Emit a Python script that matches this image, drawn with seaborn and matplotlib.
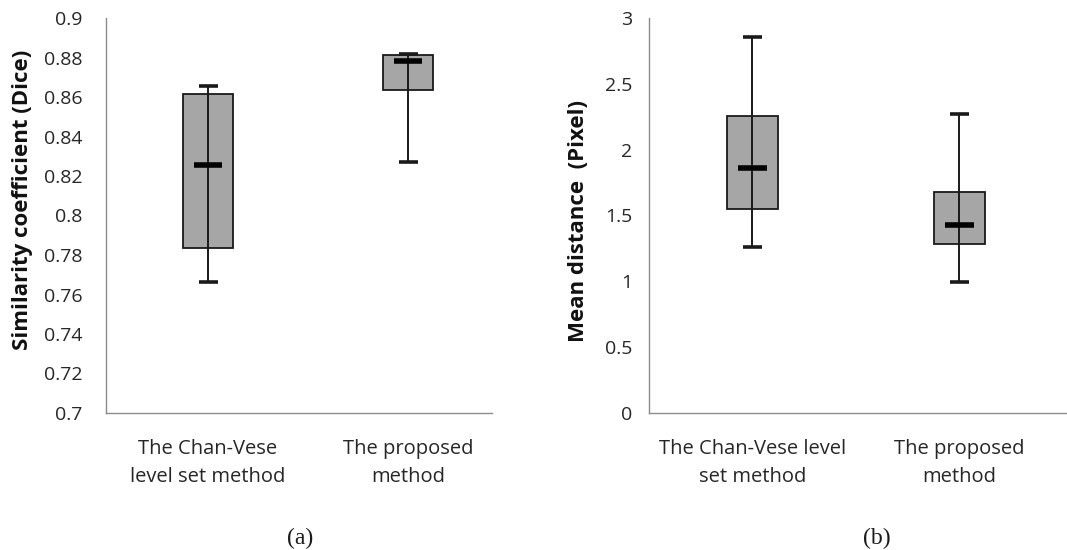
import pandas as pd
import matplotlib
matplotlib.use("Agg")
import matplotlib.pyplot as plt
import seaborn as sns

# five-number summaries: min, q1, median, q3, max
methods = ["The Chan-Vese\nlevel set method", "The proposed\nmethod"]
methods_b = ["The Chan-Vese level\nset method", "The proposed\nmethod"]
dice_chan_vese = [0.7662, 0.7835, 0.8256, 0.8615, 0.8654]
dice_proposed = [0.8271, 0.8635, 0.8784, 0.8811, 0.8819]
dist_chan_vese = [1.261, 1.549, 1.858, 2.253, 2.858]
dist_proposed = [0.992, 1.281, 1.430, 1.678, 2.271]


def long_form(labels, a, b):
    return pd.DataFrame({
        "method": [labels[0]] * len(a) + [labels[1]] * len(b),
        "value": a + b,
    })


def style_boxes(ax):
    for cont in ax.containers:
        for i, med in enumerate(cont.medians):
            x = med.get_xdata()
            c = (x[0] + x[1]) / 2
            half = (x[1] - x[0]) / 2
            med.set_xdata([c - half * 0.57, c + half * 0.57])
            y_med = med.get_ydata()[0]
            # whisker line runs through the box, as in the original
            for w in cont.whiskers[2 * i:2 * i + 2]:
                wy = w.get_ydata()
                w.set_ydata([y_med, wy[1]])
            for cap in cont.caps[2 * i:2 * i + 2]:
                cap.set_xdata([c - half * 0.38, c + half * 0.38])


def draw_panel(ax, data, ylabel, ylim, yticks, ytick_labels, xlim, ypad, label_xy):
    sns.boxplot(
        data=data, x="method", y="value", ax=ax, whis=(0, 100), width=0.25,
        color="#a6a6a6", linecolor="#1a1a1a", linewidth=1.3, fliersize=0,
        saturation=1,
        boxprops=dict(zorder=2),
        whiskerprops=dict(zorder=3, linewidth=1.4),
        capprops=dict(zorder=3, linewidth=2.6, solid_capstyle="butt"),
        medianprops=dict(zorder=4, linewidth=4.0, color="black", solid_capstyle="butt"),
    )
    style_boxes(ax)
    ax.set_ylim(*ylim)
    ax.set_xlim(*xlim)
    ax.set_yticks(yticks)
    ax.set_yticklabels(ytick_labels)
    ax.set_xlabel("")
    ax.set_ylabel(ylabel, fontweight="bold", fontsize=16, color="#111111")
    ax.yaxis.set_label_coords(*label_xy)
    for s in ["top", "right"]:
        ax.spines[s].set_visible(False)
    for s in ["left", "bottom"]:
        ax.spines[s].set_color("#8c8c8c")
        ax.spines[s].set_linewidth(1.0)
    ax.tick_params(axis="y", length=5, color="#8c8c8c", labelsize=14, labelcolor="#262626", pad=ypad)
    ax.tick_params(axis="x", length=0, labelsize=14.5, labelcolor="#262626", pad=19)
    for t in ax.get_xticklabels():
        t.set_linespacing(1.5)
    ax.grid(False)


sns.set_theme(style="white")
plt.rcParams["font.family"] = ["Open Sans", "DejaVu Sans"]

fig = plt.figure(figsize=(10.67, 5.5), dpi=100)
ax1 = fig.add_axes([106 / 1067, 1 - 413 / 550, (492 - 106) / 1067, (413 - 18) / 550])
ax2 = fig.add_axes([649 / 1067, 1 - 413 / 550, (1067 - 649) / 1067, (413 - 18) / 550])

draw_panel(
    ax1, long_form(methods, dice_chan_vese, dice_proposed),
    "Similarity coefficient (Dice)", (0.7, 0.9),
    [0.7, 0.72, 0.74, 0.76, 0.78, 0.8, 0.82, 0.84, 0.86, 0.88, 0.9],
    ["0.7", "0.72", "0.74", "0.76", "0.78", "0.8", "0.82", "0.84", "0.86", "0.88", "0.9"],
    (-0.51, 1.42), 12, (-0.19, 0.54),
)
draw_panel(
    ax2, long_form(methods_b, dist_chan_vese, dist_proposed),
    "Mean distance  (Pixel)", (0, 3),
    [0, 0.5, 1, 1.5, 2, 2.5, 3],
    ["0", "0.5", "1", "1.5", "2", "2.5", "3"],
    (-0.50, 1.52), 7, (-0.144, 0.486),
)

fig.text(300 / 1067, 1 - 538 / 550, "(a)", ha="center", va="center",
         fontsize=17, family="Liberation Serif", color="#1a1a1a")
fig.text(877 / 1067, 1 - 538 / 550, "(b)", ha="center", va="center",
         fontsize=17, family="Liberation Serif", color="#1a1a1a")

fig.savefig("out.png", dpi=100)
